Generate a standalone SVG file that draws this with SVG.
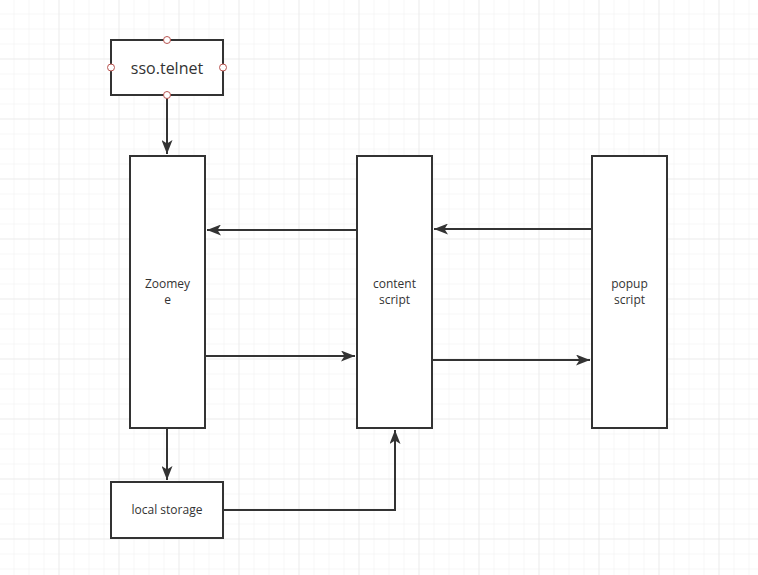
<svg xmlns="http://www.w3.org/2000/svg" width="758" height="575" viewBox="0 0 758 575">
<defs>
<pattern id="minor" width="15" height="15" patternUnits="userSpaceOnUse" x="-0.5" y="-0.5">
<path d="M15 0V15M0 15H15" fill="none" stroke="#efefef" stroke-width="1"/>
</pattern>
<pattern id="major" width="60" height="60" patternUnits="userSpaceOnUse" x="-0.5" y="-0.5">
<path d="M60 0V60M0 60H60" fill="none" stroke="#e2e2e2" stroke-width="1"/>
</pattern>
<marker id="arr" viewBox="0 0 14 11" refX="14" refY="5.5" markerWidth="14" markerHeight="11" markerUnits="userSpaceOnUse" orient="auto">
<path d="M0 0L14 5.5L0 11L3.5 5.5Z" fill="#333"/>
</marker>
<style>
.box{fill:#fff;stroke:#333;stroke-width:2}
.lbl{font-family:"Open Sans","Noto Sans",sans-serif;font-size:12px;fill:#333;text-anchor:middle}
.edge{fill:none;stroke:#333;stroke-width:2;marker-end:url(#arr)}
.port{fill:#fff;stroke:#b85450;stroke-width:1}
</style>
</defs>
<rect width="758" height="575" fill="#fff"/>
<rect width="758" height="575" fill="url(#minor)"/>
<rect width="758" height="575" fill="url(#major)"/>
<g id="edges">
<path class="edge" d="M167 95V154"/>
<path class="edge" d="M357 230H207"/>
<path class="edge" d="M205 356H355"/>
<path class="edge" d="M592 229H434"/>
<path class="edge" d="M432 360H590"/>
<path class="edge" d="M167 428V480"/>
<path class="edge" d="M223 510H395V430"/>
</g>
<g id="sso">
<rect class="box" x="111" y="40" width="112" height="55"/>
<text class="lbl" x="167" y="74" style="font-size:16px">sso.telnet</text>
<circle class="port" cx="167" cy="40" r="3.5"/>
<circle class="port" cx="111" cy="67.5" r="3.5"/>
<circle class="port" cx="223" cy="67.5" r="3.5"/>
<circle class="port" cx="167" cy="95" r="3.5"/>
</g>
<g id="zoomeye">
<rect class="box" x="130" y="156" width="75" height="272"/>
<text class="lbl" x="167.5" y="288">Zoomey</text>
<text class="lbl" x="167.5" y="304">e</text>
</g>
<g id="content">
<rect class="box" x="357" y="156" width="75" height="272"/>
<text class="lbl" x="394.5" y="288">content</text>
<text class="lbl" x="394.5" y="304">script</text>
</g>
<g id="popup">
<rect class="box" x="592" y="156" width="75" height="272"/>
<text class="lbl" x="629.5" y="288">popup</text>
<text class="lbl" x="629.5" y="304">script</text>
</g>
<g id="local">
<rect class="box" x="111" y="482" width="112" height="56"/>
<text class="lbl" x="167" y="514">local storage</text>
</g>
</svg>
